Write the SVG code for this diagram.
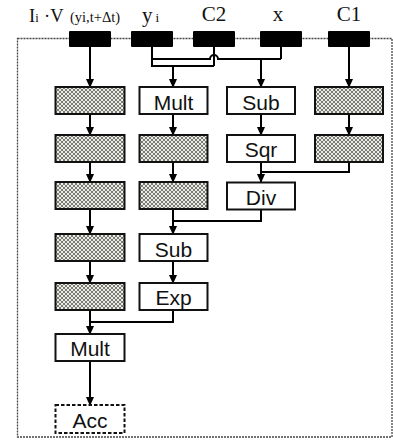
<svg xmlns="http://www.w3.org/2000/svg" width="393" height="441" viewBox="0 0 393 441">
<defs>
<pattern id="hatch" width="4" height="4" patternUnits="userSpaceOnUse">
<rect width="4" height="4" fill="#ecece6"/>
<path d="M0,0 L4,4 M4,0 L0,4" stroke="#6e6e6a" stroke-width="0.9"/>
</pattern>
<marker id="arr" markerUnits="userSpaceOnUse" markerWidth="9" markerHeight="10" refX="8" refY="4.5" orient="auto">
<path d="M0,0.5 L9,4.5 L0,8.5 z" fill="#000"/>
</marker>
<style>
.box{stroke:#111;stroke-width:2;fill:#fff}
.hb{stroke:#111;stroke-width:2;fill:url(#hatch)}
.blk{fill:#000}
.lbl{font-family:"Liberation Sans",Arial,sans-serif;font-size:21px;text-anchor:middle;fill:#111}
.hdr{font-family:"Liberation Serif","Times New Roman",serif;fill:#111}
.cn{fill:none;stroke:#000;stroke-width:2}
.ca{fill:none;stroke:#000;stroke-width:2;marker-end:url(#arr)}
</style>
</defs>
<rect x="17.5" y="38.5" width="374.5" height="398.5" fill="none" stroke="#444" stroke-width="1.3" stroke-dasharray="2 1"/>

<g id="in-iv">
<rect class="blk" x="69" y="31" width="42" height="16" rx="1"/>
<text class="hdr" x="29" y="21.7" font-size="18.5">I<tspan font-size="12.5">i</tspan><tspan x="44">·V</tspan><tspan x="70" font-size="14.5">(yi,t+Δt)</tspan></text>
</g>
<g id="in-yi">
<rect class="blk" x="131" y="31" width="42" height="16" rx="1"/>
<text class="hdr" x="142" y="22" font-size="21">y<tspan x="155.5" font-size="13">i</tspan></text>
</g>
<g id="in-c2">
<rect class="blk" x="193" y="31" width="42" height="16" rx="1"/>
<text class="hdr" x="214" y="20.5" font-size="21" text-anchor="middle">C2</text>
</g>
<g id="in-x">
<rect class="blk" x="260" y="31" width="42" height="16" rx="1"/>
<text class="hdr" x="278" y="20.5" font-size="21" text-anchor="middle">x</text>
</g>
<g id="in-c1">
<rect class="blk" x="328" y="31" width="42" height="16" rx="1"/>
<text class="hdr" x="349" y="20.5" font-size="21" text-anchor="middle">C1</text>
</g>

<g id="connectors">
<path class="ca" d="M90,47 V87"/>
<path class="ca" d="M90,114 V135"/>
<path class="ca" d="M90,162 V182"/>
<path class="ca" d="M90,209 V234"/>
<path class="ca" d="M90,261 V283"/>
<path class="ca" d="M90,310 V334"/>
<path class="cn" d="M173,310 V322 H90"/>
<path class="ca" d="M90,361 V405"/>

<path class="cn" d="M152,47 V66 H214 M214,47 V66"/>
<path class="ca" d="M173,66 V87"/>
<path class="cn" d="M152,59 H210 A4,4 0 0 1 218,59 H281 M281,47 V59"/>
<path class="ca" d="M261,59 V87"/>

<path class="ca" d="M173,114 V135"/>
<path class="ca" d="M173,162 V182"/>
<path class="ca" d="M173,209 V234"/>
<path class="cn" d="M261,209 V221 H173"/>
<path class="ca" d="M173,261 V283"/>

<path class="ca" d="M261,114 V135"/>
<path class="ca" d="M261,162 V182"/>
<path class="cn" d="M349,162 V172 H261"/>

<path class="ca" d="M349,47 V87"/>
<path class="ca" d="M349,114 V135"/>
</g>

<g id="c1-d1"><rect class="hb" x="55.5" y="87" width="69" height="27"/></g>
<g id="c1-d2"><rect class="hb" x="55.5" y="135" width="69" height="27"/></g>
<g id="c1-d3"><rect class="hb" x="55.5" y="182" width="69" height="27"/></g>
<g id="c1-d4"><rect class="hb" x="55.5" y="234" width="69" height="27"/></g>
<g id="c1-d5"><rect class="hb" x="55.5" y="283" width="69" height="27"/></g>
<g id="mult2"><rect class="box" x="55.5" y="334" width="69" height="27"/><text class="lbl" x="90" y="356">Mult</text></g>
<g id="acc"><rect x="55.5" y="405" width="69" height="28" fill="#fff" stroke="#111" stroke-width="2" stroke-dasharray="3.5 2"/><text class="lbl" x="90" y="428">Acc</text></g>

<g id="mult1"><rect class="box" x="139.5" y="87" width="68" height="27"/><text class="lbl" x="173.5" y="109.5">Mult</text></g>
<g id="c2-d1"><rect class="hb" x="139.5" y="135" width="68" height="27"/></g>
<g id="c2-d2"><rect class="hb" x="139.5" y="182" width="68" height="27"/></g>
<g id="sub2"><rect class="box" x="139.5" y="234" width="68" height="27"/><text class="lbl" x="173.5" y="256.5">Sub</text></g>
<g id="exp"><rect class="box" x="139.5" y="283" width="68" height="27"/><text class="lbl" x="173.5" y="305">Exp</text></g>

<g id="sub1"><rect class="box" x="227" y="87" width="68" height="27"/><text class="lbl" x="261" y="109.5">Sub</text></g>
<g id="sqr"><rect class="box" x="227" y="135" width="68" height="27"/><text class="lbl" x="261" y="157">Sqr</text></g>
<g id="div"><rect class="box" x="227" y="182.5" width="68" height="27"/><text class="lbl" x="261" y="204.5">Div</text></g>

<g id="c4-d1"><rect class="hb" x="315" y="87" width="68" height="27"/></g>
<g id="c4-d2"><rect class="hb" x="315" y="135" width="68" height="27"/></g>
</svg>
